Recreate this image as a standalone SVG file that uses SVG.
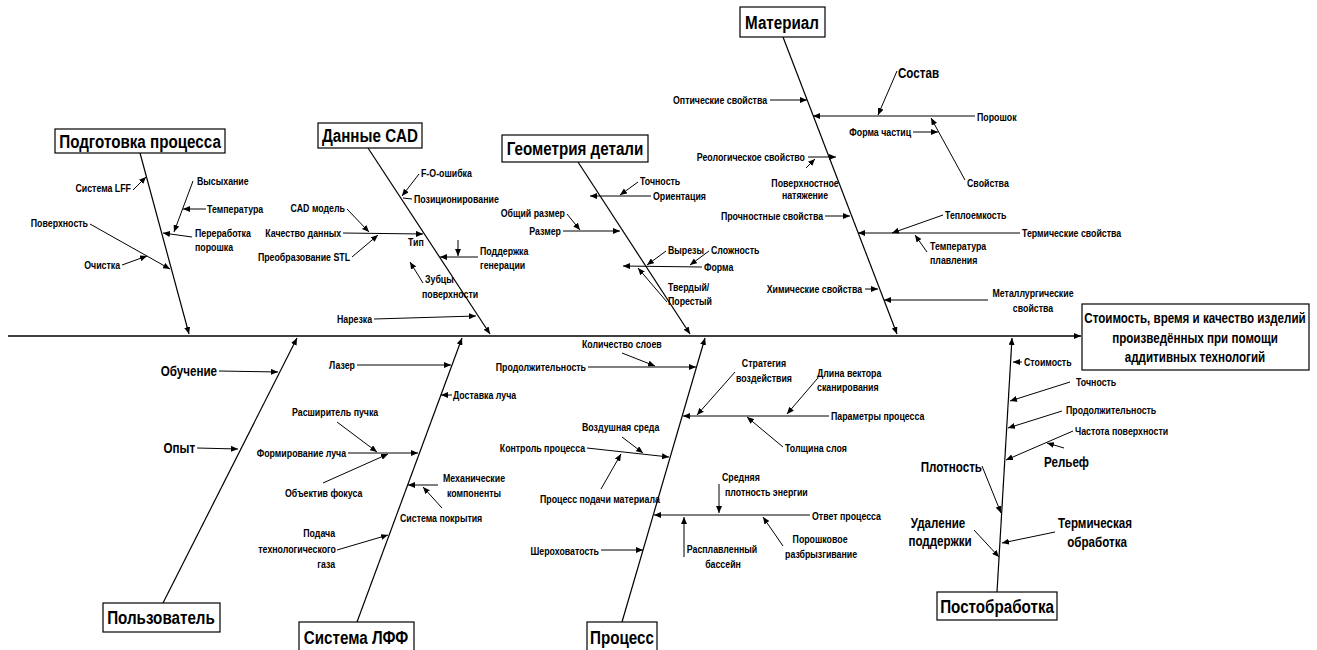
<svg xmlns="http://www.w3.org/2000/svg" width="1317" height="650" viewBox="0 0 1317 650">
  <defs>
    <marker id="ah" markerUnits="userSpaceOnUse" markerWidth="7" markerHeight="6" refX="7" refY="3" orient="auto">
      <path d="M0,0 L7,3 L0,6 z" fill="#000"/>
    </marker>
    <style>
      text { font-family: "Liberation Sans", Arial, sans-serif; font-weight: bold; fill: #000;
             transform-box: fill-box; transform-origin: left center; transform: scaleX(0.8); }
      .t { font-size: 11px; }
      .m { font-size: 14.5px; }
      .h { font-size: 19px; text-anchor: middle; transform-origin: center; }
      .r { font-size: 14.5px; text-anchor: middle; transform-origin: center; }
      .e { text-anchor: end; transform-origin: right center; }
      .c { text-anchor: middle; transform-origin: center; }
      .box { fill: #fff; stroke: #000; stroke-width: 1.2; }
      .ln { stroke: #000; stroke-width: 1; fill: none; }
      .ar { stroke: #000; stroke-width: 1; fill: none; marker-end: url(#ah); }
      .bone { stroke: #000; stroke-width: 1.2; fill: none; marker-end: url(#ah); }
      .spine { stroke: #000; stroke-width: 1.6; fill: none; marker-end: url(#ah); }
    </style>
  </defs>
  <rect width="1317" height="650" fill="#fff"/>

  <!-- spine and category bones -->
  <g id="connectors">
    <line class="spine" x1="8" y1="336" x2="1081" y2="336"/>
    <line class="bone" x1="140" y1="153" x2="189" y2="334"/>
    <line class="bone" x1="368" y1="148" x2="490" y2="334"/>
    <line class="bone" x1="578" y1="162" x2="690" y2="334"/>
    <line class="bone" x1="783" y1="37" x2="897" y2="334"/>
    <line class="bone" x1="163" y1="603" x2="297" y2="338"/>
    <line class="bone" x1="357" y1="622" x2="462" y2="338"/>
    <line class="bone" x1="622" y1="622" x2="705" y2="338"/>
    <line class="bone" x1="997" y1="592" x2="1012" y2="338"/>

    <!-- Подготовка процесса -->
    <line class="ar" x1="133" y1="190" x2="146" y2="177"/>
    <line class="ar" x1="193" y1="181" x2="174" y2="232"/>
    <line class="ar" x1="206" y1="209" x2="183" y2="209"/>
    <line class="ar" x1="192" y1="237" x2="163" y2="233"/>
    <line class="ar" x1="90" y1="224" x2="170" y2="269"/>
    <line class="ar" x1="122" y1="265" x2="147" y2="256"/>

    <!-- Данные CAD -->
    <line class="ar" x1="419" y1="174" x2="402" y2="196"/>
    <line class="ln" x1="412" y1="199" x2="403" y2="198"/>
    <line class="ar" x1="347" y1="209" x2="369" y2="232"/>
    <line class="ar" x1="343" y1="233" x2="423" y2="234"/>
    <line class="ar" x1="352" y1="257" x2="378" y2="235"/>
    <line class="ar" x1="478" y1="257" x2="440" y2="257"/>
    <line class="ar" x1="458" y1="240" x2="458" y2="256"/>
    <line class="ar" x1="423" y1="283" x2="410" y2="262"/>
    <line class="ar" x1="374" y1="319" x2="476" y2="316"/>

    <!-- Геометрия детали -->
    <line class="ar" x1="638" y1="182" x2="620" y2="195"/>
    <line class="ar" x1="651" y1="196" x2="590" y2="196"/>
    <line class="ar" x1="567" y1="214" x2="580" y2="230"/>
    <line class="ar" x1="563" y1="231" x2="620" y2="231"/>
    <line class="ar" x1="666" y1="251" x2="647" y2="265"/>
    <line class="ar" x1="709" y1="251" x2="690" y2="265"/>
    <line class="ar" x1="702" y1="267" x2="623" y2="266"/>
    <line class="ar" x1="667" y1="302" x2="638" y2="268"/>

    <!-- Материал -->
    <line class="ar" x1="770" y1="100" x2="807" y2="100"/>
    <line class="ar" x1="897" y1="71" x2="878" y2="115"/>
    <line class="ar" x1="975" y1="116" x2="813" y2="116"/>
    <line class="ar" x1="913" y1="132" x2="938" y2="132"/>
    <line class="ar" x1="965" y1="180" x2="931" y2="118"/>
    <line class="ar" x1="808" y1="157" x2="836" y2="157"/>
    <line class="ar" x1="806" y1="168" x2="815" y2="159"/>
    <line class="ar" x1="825" y1="216" x2="850" y2="216"/>
    <line class="ar" x1="943" y1="215" x2="892" y2="233"/>
    <line class="ar" x1="1020" y1="233" x2="858" y2="233"/>
    <line class="ar" x1="927" y1="252" x2="915" y2="235"/>
    <line class="ar" x1="865" y1="289" x2="878" y2="289"/>
    <line class="ar" x1="988" y1="300" x2="884" y2="300"/>

    <!-- Пользователь -->
    <line class="ar" x1="219" y1="371" x2="278" y2="372"/>
    <line class="ar" x1="197" y1="448" x2="238" y2="449"/>

    <!-- Система ЛФФ -->
    <line class="ar" x1="357" y1="365" x2="451" y2="365"/>
    <line class="ar" x1="452" y1="395" x2="441" y2="395"/>
    <line class="ar" x1="348" y1="453" x2="418" y2="453"/>
    <line class="ar" x1="337" y1="422" x2="377" y2="452"/>
    <line class="ar" x1="323" y1="483" x2="388" y2="454"/>
    <line class="ar" x1="438" y1="485" x2="408" y2="485"/>
    <line class="ar" x1="442" y1="508" x2="423" y2="487"/>
    <line class="ar" x1="337" y1="550" x2="388" y2="535"/>

    <!-- Процесс -->
    <line class="ar" x1="622" y1="353" x2="655" y2="366"/>
    <line class="ar" x1="588" y1="367" x2="696" y2="367"/>
    <line class="ar" x1="735" y1="372" x2="697" y2="415"/>
    <line class="ar" x1="817" y1="379" x2="787" y2="414"/>
    <line class="ar" x1="829" y1="416" x2="683" y2="416"/>
    <line class="ar" x1="783" y1="447" x2="747" y2="417"/>
    <line class="ar" x1="622" y1="437" x2="643" y2="453"/>
    <line class="ar" x1="587" y1="448" x2="669" y2="457"/>
    <line class="ar" x1="601" y1="489" x2="621" y2="454"/>
    <line class="ar" x1="719" y1="484" x2="719" y2="513"/>
    <line class="ar" x1="810" y1="515" x2="654" y2="515"/>
    <line class="ar" x1="684" y1="557" x2="684" y2="517"/>
    <line class="ar" x1="783" y1="546" x2="763" y2="517"/>
    <line class="ar" x1="601" y1="550" x2="643" y2="550"/>

    <!-- Постобработка -->
    <line class="ar" x1="1022" y1="362" x2="1013" y2="362"/>
    <line class="ar" x1="1070" y1="382" x2="1010" y2="401"/>
    <line class="ar" x1="1062" y1="411" x2="1008" y2="428"/>
    <line class="ar" x1="1073" y1="431" x2="1006" y2="460"/>
    <line class="ar" x1="1064" y1="448" x2="1047" y2="443"/>
    <line class="ar" x1="982" y1="466" x2="1001" y2="513"/>
    <line class="ar" x1="974" y1="530" x2="999" y2="557"/>
    <line class="ar" x1="1055" y1="532" x2="1002" y2="543"/>
  </g>

  <!-- effect box -->
  <g id="effect">
    <rect class="box" x="1082" y="304" width="227" height="66"/>
    <text class="r" x="1195" y="323">Стоимость, время и качество изделий</text>
    <text class="r" x="1195" y="343">произведённых при помощи</text>
    <text class="r" x="1195" y="362">аддитивных технологий</text>
  </g>

  <g id="cat-preparation">
    <rect class="box" x="55" y="129" width="170" height="24"/>
    <text class="h" x="140" y="148">Подготовка процесса</text>
    <text class="t e" x="131" y="192">Система LFF</text>
    <text class="t" x="197" y="185">Высыхание</text>
    <text class="t" x="207" y="213">Температура</text>
    <text class="t" x="195" y="237">Переработка</text>
    <text class="t" x="195" y="251">порошка</text>
    <text class="t e" x="88" y="227">Поверхность</text>
    <text class="t e" x="120" y="269">Очистка</text>
  </g>

  <g id="cat-cad">
    <rect class="box" x="318" y="123" width="104" height="25"/>
    <text class="h" x="370" y="142">Данные CAD</text>
    <text class="t" x="421" y="177">F-O-ошибка</text>
    <text class="t" x="414" y="203">Позиционирование</text>
    <text class="t e" x="345" y="212">CAD модель</text>
    <text class="t e" x="341" y="237">Качество данных</text>
    <text class="t" x="408" y="246">Тип</text>
    <text class="t e" x="350" y="261">Преобразование STL</text>
    <text class="t" x="480" y="255">Поддержка</text>
    <text class="t" x="480" y="269">генерации</text>
    <text class="t" x="425" y="283">Зубцы</text>
    <text class="t" x="422" y="298">поверхности</text>
    <text class="t e" x="372" y="323">Нарезка</text>
  </g>

  <g id="cat-geometry">
    <rect class="box" x="502" y="135" width="146" height="27"/>
    <text class="h" x="575" y="155">Геометрия детали</text>
    <text class="t" x="640" y="185">Точность</text>
    <text class="t" x="653" y="200">Ориентация</text>
    <text class="t e" x="565" y="217">Общий размер</text>
    <text class="t e" x="561" y="235">Размер</text>
    <text class="t" x="668" y="254">Вырезы</text>
    <text class="t" x="711" y="254">Сложность</text>
    <text class="t" x="704" y="271">Форма</text>
    <text class="t" x="668" y="291">Твердый/</text>
    <text class="t" x="668" y="305">Порестый</text>
  </g>

  <g id="cat-material">
    <rect class="box" x="740" y="7" width="85" height="30"/>
    <text class="h" x="782" y="29">Материал</text>
    <text class="t e" x="767" y="104">Оптические свойства</text>
    <text class="m" x="898" y="78">Состав</text>
    <text class="t" x="977" y="121">Порошок</text>
    <text class="t e" x="911" y="136">Форма частиц</text>
    <text class="t" x="967" y="187">Свойства</text>
    <text class="t e" x="805" y="161">Реологическое свойство</text>
    <text class="t c" x="805" y="187">Поверхностное</text>
    <text class="t c" x="805" y="199">натяжение</text>
    <text class="t e" x="823" y="220">Прочностные свойства</text>
    <text class="t" x="945" y="219">Теплоемкость</text>
    <text class="t" x="1022" y="237">Термические свойства</text>
    <text class="t" x="930" y="250">Температура</text>
    <text class="t" x="930" y="264">плавления</text>
    <text class="t e" x="862" y="293">Химические свойства</text>
    <text class="t c" x="1033" y="297">Металлургические</text>
    <text class="t c" x="1033" y="312">свойства</text>
  </g>

  <g id="cat-user">
    <rect class="box" x="103" y="603" width="117" height="29"/>
    <text class="h" x="161" y="624">Пользователь</text>
    <text class="m e" x="217" y="376">Обучение</text>
    <text class="m e" x="195" y="453">Опыт</text>
  </g>

  <g id="cat-lff">
    <rect class="box" x="299" y="622" width="115" height="34"/>
    <text class="h" x="356" y="644">Система ЛФФ</text>
    <text class="t e" x="355" y="369">Лазер</text>
    <text class="t" x="453" y="399">Доставка луча</text>
    <text class="t" x="292" y="416">Расширитель пучка</text>
    <text class="t e" x="346" y="457">Формирование луча</text>
    <text class="t" x="285" y="497">Объектив фокуса</text>
    <text class="t c" x="474" y="482">Механические</text>
    <text class="t c" x="474" y="497">компоненты</text>
    <text class="t" x="400" y="522">Система покрытия</text>
    <text class="t e" x="335" y="537">Подача</text>
    <text class="t e" x="336" y="553">технологического</text>
    <text class="t e" x="335" y="568">газа</text>
  </g>

  <g id="cat-process">
    <rect class="box" x="587" y="622" width="70" height="34"/>
    <text class="h" x="622" y="644">Процесс</text>
    <text class="t" x="582" y="348">Количество слоев</text>
    <text class="t e" x="586" y="371">Продолжительность</text>
    <text class="t c" x="764" y="367">Стратегия</text>
    <text class="t c" x="764" y="382">воздействия</text>
    <text class="t" x="817" y="377">Длина вектора</text>
    <text class="t" x="817" y="391">сканирования</text>
    <text class="t" x="831" y="420">Параметры процесса</text>
    <text class="t" x="785" y="452">Толщина слоя</text>
    <text class="t" x="582" y="431">Воздушная среда</text>
    <text class="t e" x="585" y="452">Контроль процесса</text>
    <text class="t" x="540" y="503">Процесс подачи материала</text>
    <text class="t" x="722" y="481">Средняя</text>
    <text class="t" x="725" y="496">плотность энергии</text>
    <text class="t" x="812" y="520">Ответ процесса</text>
    <text class="t c" x="722" y="553">Расплавленный</text>
    <text class="t c" x="723" y="568">бассейн</text>
    <text class="t c" x="820" y="543">Порошковое</text>
    <text class="t c" x="821" y="558">разбрызгивание</text>
    <text class="t e" x="599" y="555">Шероховатость</text>
  </g>

  <g id="cat-post">
    <rect class="box" x="937" y="592" width="120" height="28"/>
    <text class="h" x="997" y="613">Постобработка</text>
    <text class="t" x="1024" y="366">Стоимость</text>
    <text class="t" x="1076" y="386">Точность</text>
    <text class="t" x="1066" y="414">Продолжительность</text>
    <text class="t" x="1075" y="435">Частота поверхности</text>
    <text class="m" x="1044" y="467">Рельеф</text>
    <text class="m e" x="982" y="472">Плотность</text>
    <text class="m c" x="938" y="528">Удаление</text>
    <text class="m c" x="940" y="546">поддержки</text>
    <text class="m c" x="1095" y="528">Термическая</text>
    <text class="m c" x="1097" y="547">обработка</text>
  </g>
</svg>
